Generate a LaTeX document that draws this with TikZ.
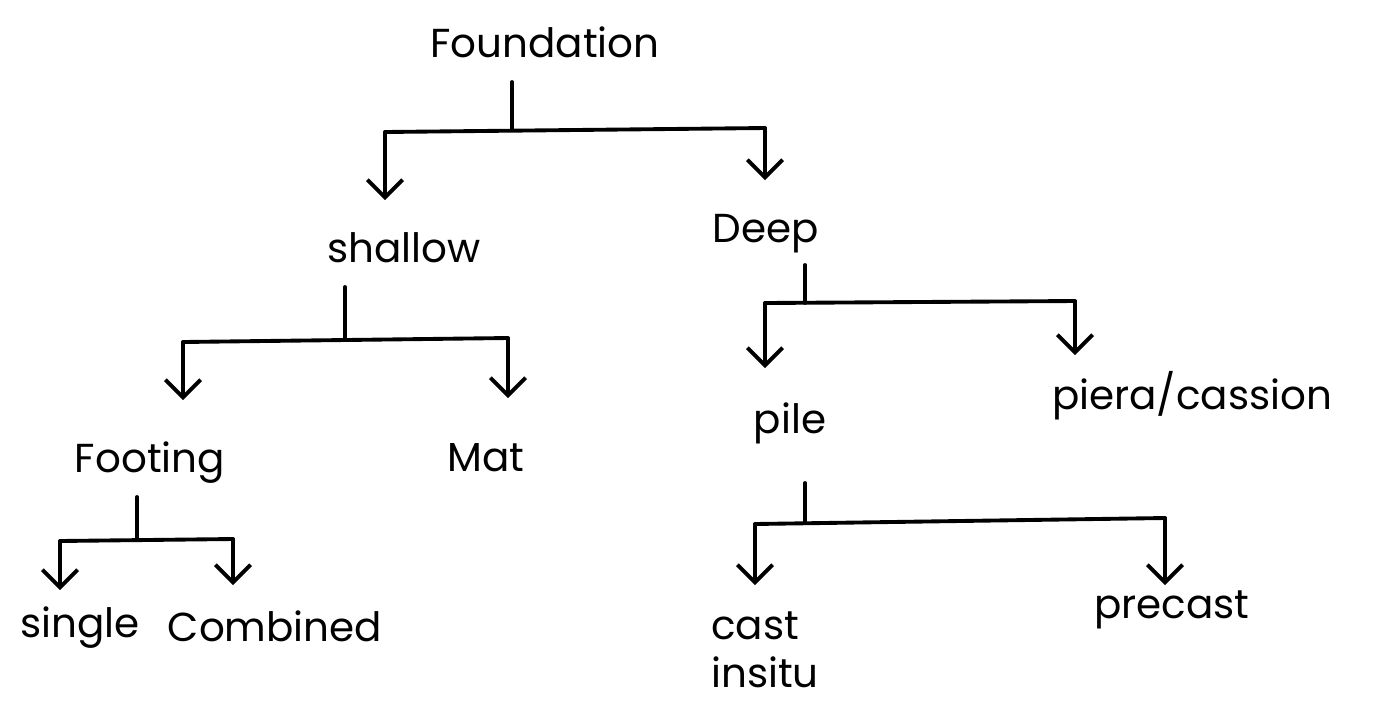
\documentclass[tikz,border=0pt]{standalone}
\usepackage{fontspec}
\setmainfont{Poppins}
\usetikzlibrary{arrows.meta}
\begin{document}
\begin{tikzpicture}[x=0.01cm,y=-0.01cm,
  txt/.style={font=\fontsize{11.5}{13.5}\selectfont, inner sep=0pt},
  link/.style={line width=1.1pt, line cap=round, line join=round},
  branch/.style={link, -{Straight Barb[length=5pt,width=10pt,line width=1.1pt]}}]
\fill[white] (0,0) rectangle (1381,702);
\useasboundingbox (0,0) rectangle (1381,702);

% labels
\node[txt] (found)   at (545,42)  {Foundation};
\node[txt] (shallow) at (404,248) {shallow};
\node[txt] (deep)    at (766,234) {Deep};
\node[txt] (footing) at (150,463) {Footing};
\node[txt] (mat)     at (486,458) {Mat};
\node[txt] (pile)    at (790,423) {pile};
\node[txt] (pier)    at (1192,396) {piera/cassion};
\node[txt] (single)  at (80,628)  {single};
\node[txt] (comb)    at (275,626) {Combined};
\node[txt, align=left] (cast) at (765,650) {cast\\insitu};
\node[txt] (precast) at (1172,610) {precast};

% Foundation -> shallow / Deep
\coordinate (fT) at (512,82);  \coordinate (fJ) at (512,130);
\coordinate (fL) at (385,132); \coordinate (fR) at (765,128);
\coordinate (fLe) at (385,200); \coordinate (fRe) at (765,180);
\draw[link] (fT) -- (fJ);
\draw[link] (fL) -- (fR);
\draw[branch] (fL) -- (fLe);
\draw[branch] (fR) -- (fRe);

% shallow -> Footing / Mat
\coordinate (sT) at (345,287); \coordinate (sJ) at (345,340);
\coordinate (sL) at (183,342); \coordinate (sR) at (508,338);
\coordinate (sLe) at (183,400); \coordinate (sRe) at (508,398);
\draw[link] (sT) -- (sJ);
\draw[link] (sL) -- (sR);
\draw[branch] (sL) -- (sLe);
\draw[branch] (sR) -- (sRe);

% Footing -> single / Combined
\coordinate (tT) at (137,497); \coordinate (tJ) at (137,540);
\coordinate (tL) at (60,541);  \coordinate (tR) at (233,539);
\coordinate (tLe) at (60,590); \coordinate (tRe) at (233,585);
\draw[link] (tT) -- (tJ);
\draw[link] (tL) -- (tR);
\draw[branch] (tL) -- (tLe);
\draw[branch] (tR) -- (tRe);

% Deep -> pile / pier
\coordinate (dT) at (805,265); \coordinate (dJ) at (805,303);
\coordinate (dL) at (765,303); \coordinate (dR) at (1075,301);
\coordinate (dLe) at (765,368); \coordinate (dRe) at (1075,355);
\draw[link] (dT) -- (dJ);
\draw[link] (dL) -- (dR);
\draw[branch] (dL) -- (dLe);
\draw[branch] (dR) -- (dRe);

% pile -> cast insitu / precast
\coordinate (pT) at (805,483); \coordinate (pJ) at (805,523);
\coordinate (pL) at (755,524); \coordinate (pR) at (1165,518);
\coordinate (pLe) at (755,585); \coordinate (pRe) at (1165,585);
\draw[link] (pT) -- (pJ);
\draw[link] (pL) -- (pR);
\draw[branch] (pL) -- (pLe);
\draw[branch] (pR) -- (pRe);
\end{tikzpicture}
\end{document}
